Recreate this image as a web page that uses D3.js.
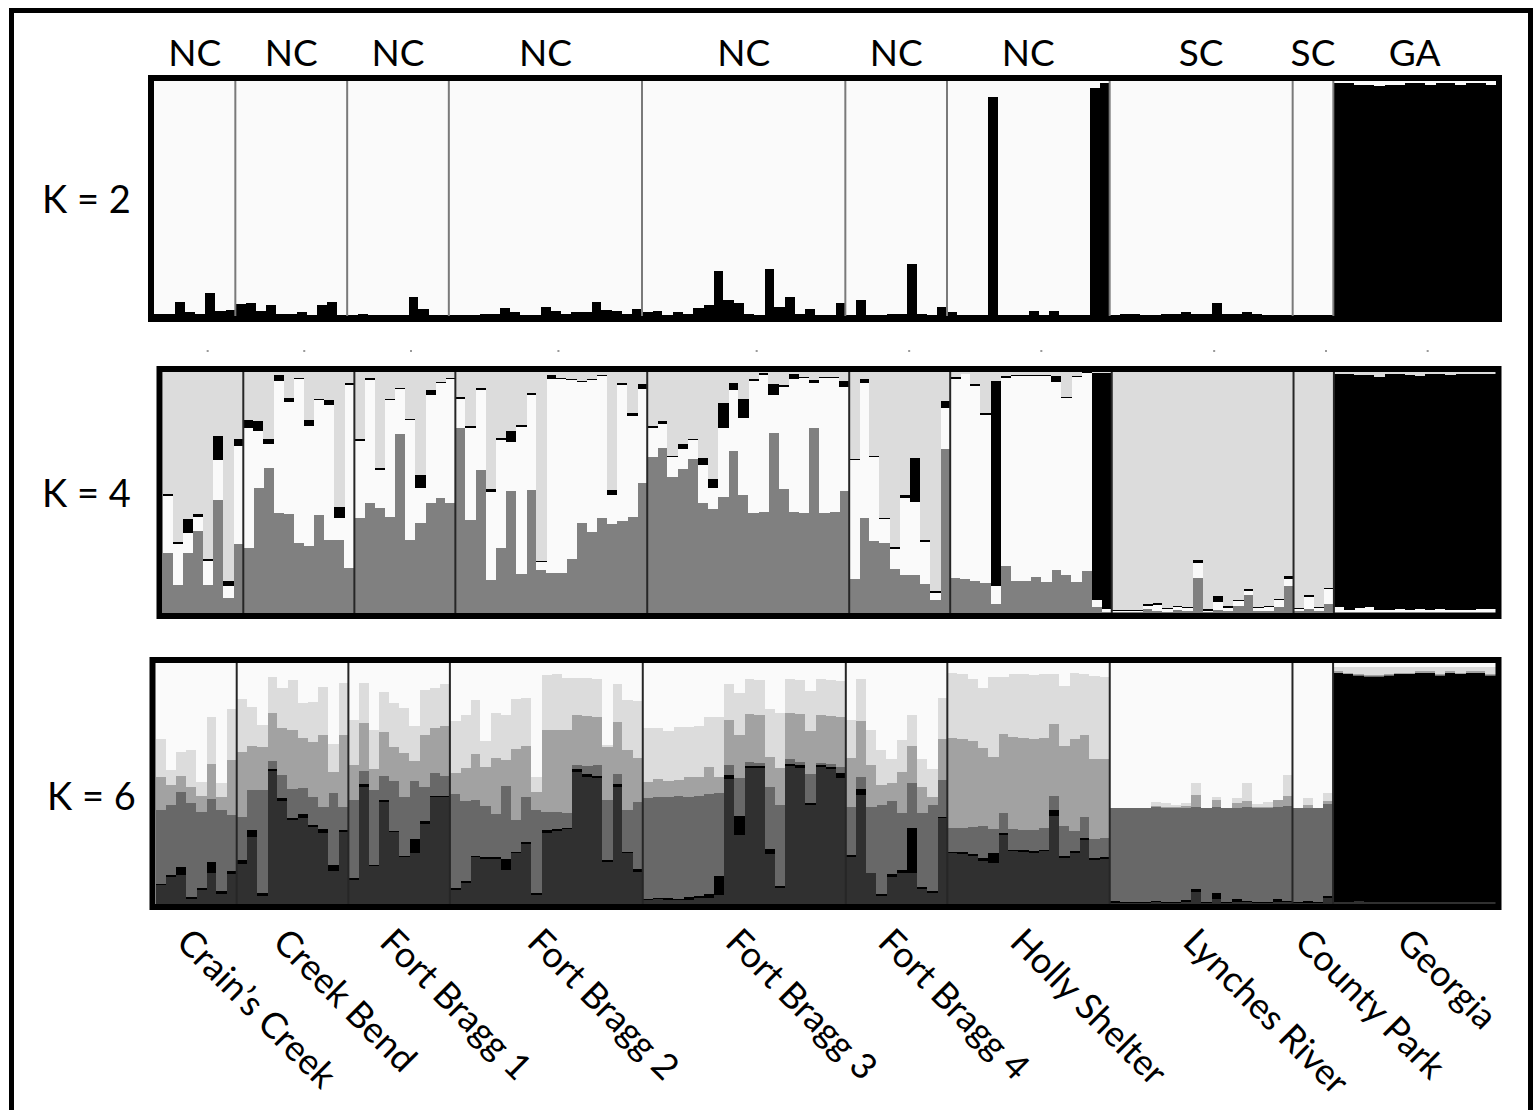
<!DOCTYPE html>
<html>
<head>
<meta charset="utf-8">
<script src="https://cdn.jsdelivr.net/npm/d3@7"></script>
<style>
  body { margin: 0; background: #fff; }
  text { font-family: Lato, "Open Sans", sans-serif; fill: #000; }
</style>
</head>
<body>
<div id="root"></div>
<script>
// populations, in plotting order
var populations = ["Crain\u2019s Creek", "Creek Bend", "Fort Bragg 1", "Fort Bragg 2", "Fort Bragg 3",
                   "Fort Bragg 4", "Holly Shelter", "Lynches River", "County Park", "Georgia"];
var states = ["NC", "NC", "NC", "NC", "NC", "NC", "NC", "SC", "SC", "GA"];
var sampleSizes = [8, 11, 10, 19, 20, 10, 16, 18, 4, 16];

// K = 2 : membership in the black cluster (white is the rest)
var k2Black = [
  0.01,0.01,0.06,0.015,0.01,0.10,0.02,0.025,
  0.05,0.055,0.02,0.045,0.01,0.01,0.015,0.005,0.045,0.06,0.005,
  0.005,0.01,0.005,0.005,0.005,0.005,0.08,0.03,0.005,0.005,
  0.005,0.005,0.005,0.01,0.01,0.035,0.015,0.005,0.005,0.04,0.02,0.01,0.015,0.015,0.06,0.025,0.02,0.01,0.03,
  0.015,0.02,0.005,0.015,0.01,0.035,0.045,0.19,0.07,0.055,0.01,0.005,0.2,0.04,0.08,0.01,0.03,0.005,0.005,0.055,
  0.005,0.07,0.005,0.005,0.01,0.01,0.22,0.01,0.005,0.04,
  0.015,0.005,0.005,0.005,0.93,0.005,0.005,0.005,0.02,0.005,0.02,0.005,0.005,0.005,0.97,0.99,
  0.005,0.01,0.01,0.005,0.005,0.01,0.01,0.015,0.01,0.01,0.055,0.01,0.01,0.015,0.01,0.005,0.005,0.005,
  0.005,0.005,0.005,0.005,
  0.99,0.99,0.985,0.985,0.98,0.985,0.985,0.99,0.99,0.985,0.99,0.99,0.985,0.99,0.99,0.985
];

// K = 4 : gray, white, black (light gray is the rest)
var k4Gray = [
  0.25,0.117,0.25,0.34,0.117,0.47,0.062,0.287,
  0.27,0.517,0.6,0.414,0.41,0.29,0.276,0.407,0.303,0.303,0.186,
  0.393,0.455,0.434,0.4,0.742,0.303,0.372,0.455,0.476,0.455,
  0.766,0.386,0.593,0.135,0.27,0.506,0.161,0.51,0.177,0.168,0.166,0.225,0.375,0.335,0.393,0.37,0.38,0.4,0.538,
  0.646,0.683,0.566,0.596,0.641,0.455,0.43,0.483,0.673,0.49,0.417,0.421,0.748,0.513,0.421,0.417,0.768,0.417,0.421,0.506,
  0.14,0.393,0.297,0.29,0.182,0.159,0.159,0.121,0.055,0.68,
  0.146,0.14,0.132,0.126,0.038,0.196,0.132,0.132,0.15,0.129,0.18,0.157,0.129,0.174,0.024,0.003,
  0.005,0.005,0.005,0.017,0.01,0.005,0.014,0.01,0.146,0.005,0.014,0.01,0.03,0.073,0.01,0.01,0.024,0.112,
  0.01,0.017,0.01,0.038,
  0.003,0.003,0.004,0.003,0.003,0.003,0.003,0.003,0.003,0.003,0.003,0.003,0.003,0.003,0.003,0.003
];
var k4White = [
  0.234,0.17,0.083,0.06,0.097,0.165,0.051,0.405,
  0.497,0.24,0.103,0.55,0.466,0.68,0.5,0.476,0.562,0.09,0.76,
  0.32,0.51,0.159,0.483,0.186,0.497,0.145,0.451,0.479,0.517,
  0.124,0.38,0.333,0.368,0.448,0.204,0.611,0.396,0.033,0.804,0.806,0.74,0.583,0.63,0.59,0.12,0.566,0.417,0.393,
  0.123,0.103,0.08,0.086,0.076,0.159,0.09,0.286,0.251,0.321,0.546,0.568,0.156,0.425,0.552,0.557,0.186,0.557,0.553,0.433,
  0.494,0.56,0.35,0.1,0.083,0.32,0.3,0.175,0.028,0.17,
  0.826,0.85,0.81,0.696,0.074,0.78,0.85,0.85,0.833,0.856,0.78,0.735,0.85,0.82,0.032,0.014,
  0.005,0.005,0.005,0.01,0.025,0.01,0.01,0.01,0.06,0.005,0.03,0.012,0.02,0.02,0.01,0.015,0.028,0.03,
  0.007,0.049,0.01,0.063,
  0.02,0.01,0.015,0.02,0.01,0.01,0.012,0.01,0.012,0.01,0.012,0.01,0.008,0.008,0.012,0.015
];
var k4Black = [
  0.008,0.008,0.055,0.01,0.01,0.1,0.02,0.03,
  0.034,0.04,0.02,0.023,0.017,0.007,0.023,0.007,0.02,0.048,0.007,
  0.007,0.01,0.007,0.007,0.007,0.005,0.055,0.02,0.005,0.005,
  0.007,0.008,0.007,0.01,0.007,0.044,0.007,0.007,0.007,0.014,0.005,0.008,0.006,0.005,0.006,0.02,0.008,0.014,0.018,
  0.008,0.01,0.007,0.018,0.007,0.028,0.035,0.103,0.03,0.075,0.007,0.006,0.048,0.007,0.018,0.005,0.014,0.006,0.005,0.022,
  0.006,0.018,0.006,0.006,0.008,0.012,0.183,0.008,0.01,0.028,
  0.007,0.0,0.007,0.008,0.85,0.007,0.004,0.004,0.004,0.004,0.022,0.004,0.004,0.004,0.94,0.98,
  0.003,0.003,0.003,0.01,0.008,0.005,0.007,0.005,0.014,0.005,0.028,0.005,0.005,0.008,0.005,0.005,0.007,0.01,
  0.004,0.007,0.004,0.004,
  0.967,0.977,0.969,0.965,0.967,0.977,0.975,0.975,0.967,0.977,0.975,0.975,0.979,0.979,0.975,0.972
];

// K = 6 : dark, black, gray, mid gray, light gray (white is the rest)
var k6Dark = [
  0.077,0.113,0.12,0.019,0.058,0.127,0.04,0.124,
  0.164,0.279,0.033,0.552,0.428,0.348,0.356,0.32,0.293,0.138,0.3,
  0.1,0.486,0.157,0.422,0.297,0.193,0.213,0.334,0.442,0.446,
  0.058,0.086,0.193,0.186,0.186,0.141,0.21,0.251,0.037,0.295,0.304,0.31,0.548,0.528,0.521,0.175,0.487,0.21,0.134,
  0.017,0.021,0.017,0.015,0.017,0.025,0.023,0.037,0.52,0.286,0.566,0.566,0.207,0.065,0.572,0.566,0.41,0.569,0.562,0.521,
  0.196,0.452,0.127,0.033,0.113,0.13,0.13,0.061,0.044,0.355,
  0.211,0.208,0.2,0.18,0.169,0.285,0.219,0.217,0.213,0.219,0.364,0.192,0.213,0.267,0.181,0.188,
  0.004,0.004,0.004,0.004,0.007,0.004,0.004,0.01,0.049,0.004,0.021,0.004,0.01,0.008,0.004,0.004,0.01,0.008,
  0.004,0.006,0.004,0.025,
  0.01,0.008,0.012,0.01,0.008,0.008,0.01,0.008,0.008,0.01,0.008,0.01,0.008,0.008,0.008,0.01
];
var k6Black = [
  0.008,0.007,0.035,0.008,0.01,0.048,0.015,0.014,
  0.018,0.028,0.014,0.01,0.01,0.007,0.017,0.007,0.02,0.023,0.007,
  0.007,0.011,0.004,0.008,0.006,0.007,0.057,0.011,0.006,0.004,
  0.008,0.008,0.006,0.009,0.009,0.044,0.007,0.007,0.007,0.011,0.009,0.007,0.011,0.01,0.01,0.007,0.01,0.006,0.01,
  0.004,0.004,0.006,0.007,0.014,0.01,0.02,0.079,0.015,0.079,0.006,0.006,0.023,0.008,0.01,0.01,0.008,0.008,0.008,0.023,
  0.006,0.025,0.0,0.008,0.01,0.011,0.184,0.011,0.011,0.008,
  0.006,0.006,0.006,0.01,0.042,0.008,0.006,0.006,0.006,0.006,0.025,0.006,0.007,0.006,0.008,0.007,
  0.007,0.004,0.004,0.004,0.007,0.004,0.004,0.008,0.014,0.004,0.024,0.004,0.01,0.006,0.004,0.004,0.012,0.006,
  0.004,0.008,0.004,0.01,
  0.948,0.945,0.936,0.933,0.935,0.94,0.943,0.945,0.95,0.948,0.94,0.948,0.945,0.95,0.95,0.938
];
var k6Gray = [
  0.307,0.29,0.311,0.392,0.315,0.262,0.334,0.23,
  0.18,0.166,0.425,0.033,0.097,0.124,0.11,0.118,0.09,0.298,0.096,
  0.325,0.055,0.311,0.103,0.208,0.246,0.241,0.141,0.094,0.08,
  0.392,0.332,0.232,0.213,0.177,0.304,0.13,0.188,0.345,0.076,0.07,0.062,0.017,0.035,0.045,0.25,0.044,0.173,0.279,
  0.42,0.421,0.42,0.425,0.414,0.414,0.414,0.345,0.041,0.156,0.017,0.014,0.256,0.339,0.019,0.014,0.12,0.008,0.01,0.025,
  0.202,0.052,0.276,0.369,0.304,0.235,0.188,0.304,0.354,0.152,
  0.1,0.1,0.115,0.132,0.101,0.083,0.085,0.086,0.09,0.09,0.06,0.125,0.083,0.086,0.079,0.079,
  0.388,0.39,0.39,0.39,0.39,0.392,0.39,0.38,0.339,0.39,0.358,0.39,0.38,0.39,0.392,0.392,0.38,0.392,
  0.39,0.385,0.39,0.38,
  0.002,0.002,0.002,0.002,0.002,0.002,0.002,0.002,0.002,0.002,0.002,0.002,0.002,0.002,0.002,0.002
];
var k6Mid = [
  0.135,0.083,0.065,0.066,0.065,0.145,0.055,0.231,
  0.269,0.182,0.18,0.198,0.196,0.242,0.207,0.228,0.297,0.09,0.297,
  0.145,0.2,0.09,0.18,0.139,0.18,0.083,0.214,0.19,0.207,
  0.086,0.138,0.193,0.159,0.235,0.11,0.297,0.21,0.076,0.338,0.338,0.345,0.207,0.207,0.2,0.221,0.214,0.249,0.184,
  0.066,0.072,0.066,0.068,0.083,0.076,0.11,0.064,0.186,0.18,0.198,0.2,0.124,0.152,0.193,0.2,0.18,0.2,0.202,0.207,
  0.2,0.231,0.172,0.083,0.076,0.173,0.152,0.11,0.035,0.168,
  0.372,0.372,0.354,0.326,0.296,0.328,0.385,0.379,0.375,0.372,0.296,0.333,0.382,0.344,0.333,0.326,
  0,0,0,0,0.004,0.004,0.003,0.008,0.051,0,0.03,0,0.018,0.025,0.004,0.004,0.03,0.042,
  0,0.01,0,0.012,
  0.005,0.005,0.005,0.005,0.005,0.005,0.005,0.005,0.005,0.005,0.005,0.005,0.005,0.005,0.005,0.005
];
var k6Light = [
  0.159,0.065,0.1,0.152,0.059,0.193,0.058,0.211,
  0.221,0.163,0.09,0.148,0.166,0.21,0.145,0.166,0.2,0.115,0.217,
  0.186,0.166,0.159,0.166,0.182,0.186,0.145,0.186,0.166,0.177,
  0.214,0.221,0.221,0.11,0.186,0.184,0.207,0.197,0.062,0.232,0.235,0.214,0.155,0.159,0.159,0.007,0.159,0.207,0.235,
  0.224,0.214,0.21,0.218,0.207,0.214,0.207,0.25,0.152,0.173,0.145,0.145,0.2,0.228,0.141,0.141,0.166,0.148,0.148,0.149,
  0.159,0.175,0.145,0.145,0.097,0.131,0.131,0.117,0.117,0.171,
  0.269,0.269,0.257,0.247,0.333,0.236,0.261,0.267,0.267,0.269,0.211,0.25,0.275,0.253,0.347,0.342,
  0,0,0,0,0.015,0.015,0.01,0.012,0.051,0,0.012,0,0.02,0.072,0.012,0.018,0,0.086,
  0,0.03,0,0.032,
  0.02,0.025,0.03,0.035,0.035,0.03,0.025,0.025,0.02,0.02,0.03,0.02,0.025,0.02,0.02,0.03
];

var width = 1534, height = 1110;

// build one row per individual, last cluster is whatever is left
function makeRows(cols) {
  return cols[0].map(function(v, i) {
    var row = {}, sum = 0;
    cols.forEach(function(c, j) { row["c" + j] = c[i]; sum += c[i]; });
    row["c" + cols.length] = Math.max(0, 1 - sum);
    return row;
  });
}

var panels = [
  { label: "K = 2", rows: makeRows([k2Black]),
    colors: ["#000000", "#fafafa"],
    x: [154, 1496], y: [81, 316], sep: "#7a7a7a", sepW: 2, lx: 42, ly: 0 },
  { label: "K = 4", rows: makeRows([k4Gray, k4White, k4Black]),
    colors: ["#808080", "#fafafa", "#000000", "#dcdcdc"],
    x: [162.5, 1495.5], y: [372, 613], sep: "#262626", sepW: 2, lx: 42, ly: 0 },
  { label: "K = 6", rows: makeRows([k6Dark, k6Black, k6Gray, k6Mid, k6Light]),
    colors: ["#303030", "#000000", "#686868", "#a2a2a2", "#dcdcdc", "#fafafa"],
    x: [155.5, 1495.5], y: [663, 904], sep: "#262626", sepW: 2, lx: 47, ly: 12 }
];

// first individual of every population
var starts = [0];
sampleSizes.forEach(function(n, i) { starts.push(starts[i] + n); });
var nInd = starts[starts.length - 1];

var svg = d3.select("#root").append("svg")
    .attr("width", width)
    .attr("height", height);

// outer frame of the figure
svg.append("rect")
    .attr("x", 11.5).attr("y", 10.5)
    .attr("width", 1519).attr("height", 1120)
    .attr("fill", "none")
    .attr("stroke", "#000")
    .attr("stroke-width", 5);

panels.forEach(function(p) {
  var keys = p.colors.map(function(c, j) { return "c" + j; });

  var x = d3.scaleBand()
      .domain(d3.range(nInd))
      .range(p.x)
      .padding(0);
  var y = d3.scaleLinear()
      .domain([0, 1])
      .range([p.y[1], p.y[0]]);

  var series = d3.stack().keys(keys)(p.rows);

  var g = svg.append("g");

  g.selectAll(".layer")
    .data(series)
    .enter().append("g")
      .attr("class", "layer")
      .attr("fill", function(d, j) { return p.colors[j]; })
    .selectAll("rect")
    .data(function(d) { return d; })
    .enter().append("rect")
      .attr("shape-rendering", "crispEdges")
      .attr("x", function(d, i) { return x(i); })
      .attr("width", x.bandwidth() + 0.5)
      .attr("y", function(d) { return y(Math.min(1, d[1])); })
      .attr("height", function(d) { return Math.max(0, y(d[0]) - y(Math.min(1, d[1]))); });

  // population separators
  g.selectAll(".sep")
    .data(starts.slice(1, -1))
    .enter().append("line")
      .attr("class", "sep")
      .attr("x1", function(s) { return x(s); })
      .attr("x2", function(s) { return x(s); })
      .attr("y1", p.y[0])
      .attr("y2", p.y[1])
      .attr("stroke", p.sep)
      .attr("stroke-width", p.sepW);

  // thick panel border
  g.append("rect")
      .attr("x", p.x[0] - 3)
      .attr("y", p.y[0] - 3)
      .attr("width", p.x[1] - p.x[0] + 6)
      .attr("height", p.y[1] - p.y[0] + 6)
      .attr("fill", "none")
      .attr("stroke", "#000")
      .attr("stroke-width", 6);

  svg.append("text")
      .attr("x", p.lx)
      .attr("y", (p.y[0] + p.y[1]) / 2 + 14 + p.ly)
      .attr("font-size", 38)
      .text(p.label);

  p.xScale = x;
});

// population centres on the top panel
var x2 = panels[0].xScale;
function centre(i) { return (x2(starts[i]) + x2(starts[i + 1] - 1) + x2.bandwidth()) / 2; }

// state labels above
svg.selectAll(".state")
  .data(states)
  .enter().append("text")
    .attr("class", "state")
    .attr("x", function(d, i) { return centre(i); })
    .attr("y", 66)
    .attr("text-anchor", "middle")
    .attr("font-size", 37)
    .text(function(d) { return d; });

// faint tick dots between first and second panel
svg.selectAll(".tick")
  .data(populations)
  .enter().append("rect")
    .attr("class", "tick")
    .attr("x", function(d, i) { return centre(i) + 12; })
    .attr("y", 350)
    .attr("width", 2)
    .attr("height", 2)
    .attr("fill", "#9a9a9a");

// rotated population names below
svg.selectAll(".pop")
  .data(populations)
  .enter().append("text")
    .attr("class", "pop")
    .attr("transform", function(d, i) {
      return "translate(" + (centre(i) - 20) + ",944) rotate(45)";
    })
    .attr("font-size", 36)
    .text(function(d) { return d; });
</script>
</body>
</html>
